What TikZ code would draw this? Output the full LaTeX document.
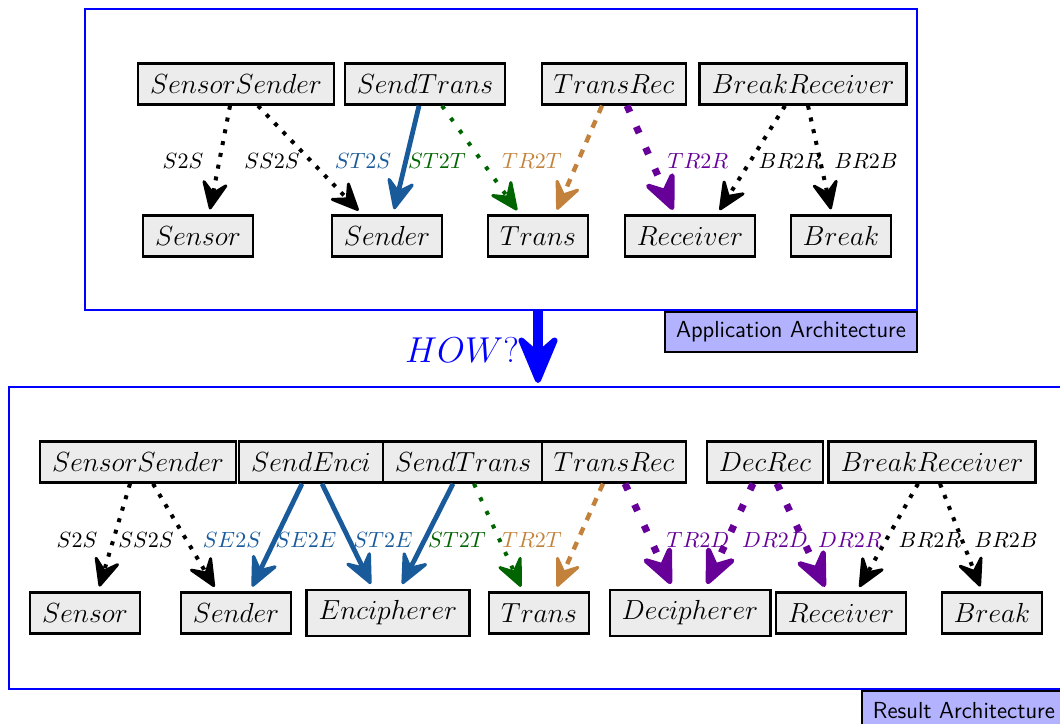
\RequirePackage{fix-cm}
\documentclass[tikz,border=0pt]{standalone}
\usetikzlibrary{arrows.meta,calc}

\definecolor{linkblue}{RGB}{25,90,155}
\definecolor{linkgreen}{RGB}{0,100,0}
\definecolor{linkbrown}{RGB}{195,130,60}
\definecolor{linkpurple}{RGB}{102,0,153}

\tikzset{
  comp/.style={draw=black, line width=1.2pt, fill=gray!15, inner xsep=6pt, inner ysep=5.5pt,
    font=\fontsize{13.8}{16}\selectfont},
  lbl/.style={font=\fontsize{11}{13}\selectfont, inner sep=1pt},
  frame/.style={draw=blue, line width=1pt, inner sep=0pt},
  archlabel/.style={draw=black, line width=1pt, fill=blue!30, minimum height=20pt, inner xsep=5.5pt,
    font=\sffamily\fontsize{11.6}{13}\selectfont},
  link/.style={shorten >=2.5pt, line cap=butt},
  smalltip/.style={-{Stealth[round, length=10pt, width=9pt, inset=4pt, line width=1.5pt, scale=1.7]}},
  blackdot/.style={link, smalltip, draw=black, line width=2pt, dash pattern=on 2pt off 4pt},
  greendot/.style={link, smalltip, draw=linkgreen, line width=2pt, dash pattern=on 2pt off 5.5pt},
  bluesolid/.style={link, -{Stealth[round, length=10.5pt, width=9.5pt, inset=4pt, line width=1.6pt, scale=1.7]},
    draw=linkblue, line width=2.4pt},
  browndash/.style={link, smalltip, draw=linkbrown, line width=2.2pt, dash pattern=on 4pt off 4pt},
  purpledash/.style={link, -{Stealth[round, length=13pt, width=11.5pt, inset=5pt, line width=2.5pt, scale=1.7]},
    draw=linkpurple, line width=3.5pt, dash pattern=on 3.5pt off 8pt},
  how/.style={-{Stealth[round, length=18pt, width=15pt, inset=6.5pt, line width=3pt, scale=1.6]}, draw=blue,
    line width=5pt, shorten >=1.5pt},
}

\begin{document}
\begin{tikzpicture}[x=0.5pt, y=-0.5pt]
\useasboundingbox (0,0) rectangle (1060,723);

% ---------------- application architecture ----------------
\node[frame, minimum width=416pt, minimum height=150.5pt] (appframe) at (501,159.5) {};
\node[archlabel, anchor=north east] (applbl) at (appframe.south east) {Application Architecture};

\node[comp] (ss1) at (236,84) {$SensorSender$};
\node[comp] (st1) at (425,84) {$SendTrans$};
\node[comp] (tr1) at (614,84) {$TransRec$};
\node[comp] (br1) at (803,84) {$BreakReceiver$};

\node[comp] (sen1) at (198,236) {$Sensor$};
\node[comp] (snd1) at (387,236) {$Sender$};
\node[comp] (trn1) at (538,236) {$Trans$};
\node[comp] (rcv1) at (690,236) {$Receiver$};
\node[comp] (brk1) at (841,236) {$Break$};

\draw[blackdot]   ([xshift=-3pt]ss1.south)  -- ([xshift=5.5pt]sen1.north);
\draw[blackdot]   ([xshift=11pt]ss1.south)  -- ([xshift=-12.5pt]snd1.north);
\draw[bluesolid]  ([xshift=-3pt]st1.south)  -- ([xshift=3pt]snd1.north);
\draw[greendot]   ([xshift=8.5pt]st1.south) -- ([xshift=-9pt]trn1.north);
\draw[browndash]  ([xshift=-6pt]tr1.south)  -- ([xshift=8.5pt]trn1.north);
\draw[purpledash] ([xshift=6.5pt]tr1.south) -- ([xshift=-7.5pt]rcv1.north);
\draw[blackdot]   ([xshift=-9pt]br1.south)  -- ([xshift=13.5pt]rcv1.north);
\draw[blackdot]   ([xshift=2.5pt]br1.south) -- ([xshift=-4.5pt]brk1.north);

\node[lbl] (a1) at (183,161) {$S2S$};
\node[lbl] (a2) at (272,161) {$SS2S$};
\node[lbl, text=linkblue] (a3) at (363,161) {$ST2S$};
\node[lbl, text=linkgreen] (a4) at (437,161) {$ST2T$};
\node[lbl, text=linkbrown] (a5) at (532,161) {$TR2T$};
\node[lbl, text=linkpurple] (a6) at (698,161) {$TR2R$};
\node[lbl] (a7) at (790,161) {$BR2R$};
\node[lbl] (a8) at (866,161) {$BR2B$};

% ---------------- transition ----------------
\node[frame, minimum width=528.5pt, minimum height=151pt] (resframe) at (537.5,538) {};
\node[archlabel, anchor=north east] (reslbl) at (resframe.south east) {Result Architecture};

\coordinate (howx) at (538,0);
\draw[how] (appframe.south -| howx) -- (resframe.north -| howx);
\node[text=blue, font=\fontsize{18}{20}\selectfont] (howtxt) at (462,350) {$HOW?$};

% ---------------- result architecture ----------------
\node[comp] (ss2) at (138,462) {$SensorSender$};
\node[comp] (se2) at (311,462) {$SendEnci$};
\node[comp] (st2) at (463,462) {$SendTrans$};
\node[comp] (tr2) at (614,462) {$TransRec$};
\node[comp] (dr2) at (765,462) {$DecRec$};
\node[comp] (br2) at (932,462) {$BreakReceiver$};

\node[comp] (sen2) at (85,613)  {$Sensor$};
\node[comp] (snd2) at (236,613) {$Sender$};
\node[comp] (enc2) at (388,613) {$Encipherer$};
\node[comp] (trn2) at (539,613) {$Trans$};
\node[comp] (dec2) at (690,613) {$Decipherer$};
\node[comp] (rcv2) at (841,613) {$Receiver$};
\node[comp] (brk2) at (992,613) {$Break$};

\draw[blackdot]   ([xshift=-4pt]ss2.south)  -- ([xshift=6.5pt]sen2.north);
\draw[blackdot]   ([xshift=7.5pt]ss2.south) -- ([xshift=-9.5pt]snd2.north);
\draw[bluesolid]  ([xshift=-4.5pt]se2.south) -- ([xshift=7pt]snd2.north);
\draw[bluesolid]  ([xshift=5.5pt]se2.south) -- ([xshift=-7.5pt]enc2.north);
\draw[bluesolid]  ([xshift=-5pt]st2.south)  -- ([xshift=6pt]enc2.north);
\draw[greendot]   ([xshift=5.5pt]st2.south) -- ([xshift=-8pt]trn2.north);
\draw[browndash]  ([xshift=-5.5pt]tr2.south) -- ([xshift=8pt]trn2.north);
\draw[purpledash] ([xshift=5.5pt]tr2.south) -- ([xshift=-8.5pt]dec2.north);
\draw[purpledash] ([xshift=-6pt]dr2.south)  -- ([xshift=7.5pt]dec2.north);
\draw[purpledash] ([xshift=6pt]dr2.south)   -- ([xshift=-7pt]rcv2.north);
\draw[blackdot]   ([xshift=-7pt]br2.south)  -- ([xshift=8pt]rcv2.north);
\draw[blackdot]   ([xshift=4pt]br2.south)   -- ([xshift=-5pt]brk2.north);

\node[lbl] (b1) at (77,540) {$S2S$};
\node[lbl] (b2) at (146,540) {$SS2S$};
\node[lbl, text=linkblue] (b3) at (232,540) {$SE2S$};
\node[lbl, text=linkblue] (b4) at (306,540) {$SE2E$};
\node[lbl, text=linkblue] (b5) at (383,540) {$ST2E$};
\node[lbl, text=linkgreen] (b6) at (457,540) {$ST2T$};
\node[lbl, text=linkbrown] (b7) at (532,540) {$TR2T$};
\node[lbl, text=linkpurple] (b8) at (698,540) {$TR2D$};
\node[lbl, text=linkpurple] (b9) at (775,540) {$DR2D$};
\node[lbl, text=linkpurple] (b10) at (850,540) {$DR2R$};
\node[lbl] (b11) at (930,540) {$BR2R$};
\node[lbl] (b12) at (1006,540) {$BR2B$};
\end{tikzpicture}
\end{document}
